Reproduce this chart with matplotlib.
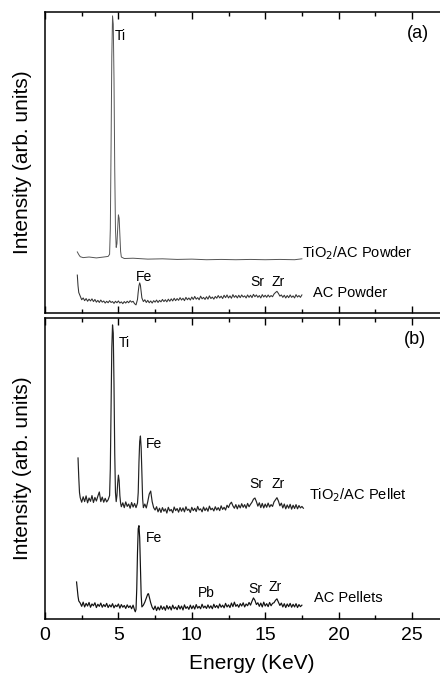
import matplotlib
matplotlib.use("Agg")
import matplotlib.pyplot as plt
from matplotlib.ticker import MultipleLocator

plt.rcParams['font.family'] = ['Liberation Sans', 'DejaVu Sans']

x_ticks = [0, 5, 10, 15, 20, 25]

# (a) TiO2/AC powder
tio2_pow_e = [2.20, 2.30, 2.40, 2.60, 3.00, 3.50, 4.00, 4.30, 4.40, 4.45, 4.50, 4.55,
              4.60, 4.65, 4.70, 4.75, 4.80, 4.85, 4.90, 4.95, 5.00, 5.05, 5.10, 5.15,
              5.20, 5.40, 6.00, 7.00, 8.00, 9.00, 10.0, 11.0, 12.0, 13.0, 14.0, 15.0,
              16.0, 17.0, 17.5]
tio2_pow_i = [20.3, 19.4, 18.7, 18.4, 18.6, 18.3, 18.6, 18.8, 19.5, 28.0, 55.0, 85.0,
              98.7, 96.0, 78.0, 48.0, 28.0, 21.8, 23.0, 28.0, 32.6, 31.5, 26.0, 20.5,
              18.6, 18.1, 18.2, 17.9, 18.0, 17.8, 17.9, 17.7, 17.8, 17.7, 17.8, 17.7,
              17.8, 17.7, 18.0]

# (a) AC powder
ac_pow_e = [2.20, 2.25, 2.30, 2.40, 2.50, 2.60, 2.70, 2.80, 2.90, 3.00, 3.10, 3.20,
            3.30, 3.40, 3.50, 3.60, 3.70, 3.80, 3.90, 4.00, 4.10, 4.20, 4.30, 4.40,
            4.50, 4.60, 4.70, 4.80, 4.90, 5.00, 5.10, 5.20, 5.30, 5.40, 5.50, 5.60,
            5.70, 5.80, 5.90, 6.00, 6.10, 6.20, 6.30, 6.35, 6.40, 6.45, 6.50, 6.55,
            6.60, 6.70, 6.80, 6.90, 7.00, 7.10, 7.20, 7.30, 7.40, 7.50, 7.60, 7.70,
            7.80, 7.90, 8.00, 8.10, 8.20, 8.30, 8.40, 8.50, 8.60, 8.70, 8.80, 8.90,
            9.00, 9.10, 9.20, 9.30, 9.40, 9.50, 9.60, 9.70, 9.80, 9.90, 10.0, 10.1,
            10.2, 10.3, 10.4, 10.5, 10.6, 10.7, 10.8, 10.9, 11.0, 11.1, 11.2, 11.3,
            11.4, 11.5, 11.6, 11.7, 11.8, 11.9, 12.0, 12.1, 12.2, 12.3, 12.4, 12.5,
            12.6, 12.7, 12.8, 12.9, 13.0, 13.1, 13.2, 13.3, 13.4, 13.5, 13.6, 13.7,
            13.8, 13.9, 14.0, 14.1, 14.2, 14.3, 14.4, 14.5, 14.6, 14.7, 14.8, 14.9,
            15.0, 15.1, 15.2, 15.3, 15.4, 15.5, 15.6, 15.7, 15.8, 15.9, 16.0, 16.1,
            16.2, 16.3, 16.4, 16.5, 16.6, 16.7, 16.8, 16.9, 17.0, 17.1, 17.2, 17.3,
            17.4, 17.5]
ac_pow_i = [12.6, 9.0, 6.8, 5.6, 4.4, 5.0, 4.1, 4.8, 3.9, 4.6, 4.0, 4.7,
            3.8, 4.5, 3.6, 4.2, 3.5, 4.3, 3.6, 4.0, 3.3, 3.9, 3.4, 4.1,
            3.5, 3.8, 3.2, 3.9, 3.4, 4.0, 3.3, 3.7, 3.1, 3.8, 3.3, 3.9,
            3.4, 4.1, 3.6, 3.9, 3.1, 2.7, 4.5, 7.0, 9.0, 10.0, 9.2, 7.0,
            5.0, 3.8, 4.4, 3.5, 4.2, 3.4, 4.0, 3.3, 4.1, 3.6, 4.3, 3.5,
            4.2, 3.7, 4.5, 3.8, 4.4, 3.7, 4.6, 3.9, 4.7, 4.0, 4.9, 4.1,
            4.8, 4.2, 5.1, 4.3, 4.9, 4.1, 5.2, 4.4, 5.0, 4.3, 5.3, 4.5,
            5.5, 4.6, 5.1, 4.4, 5.6, 4.7, 5.2, 4.5, 5.4, 4.6, 5.7, 4.8,
            5.3, 4.6, 5.5, 4.9, 5.8, 5.0, 5.6, 4.8, 5.9, 5.1, 6.0, 5.0,
            5.7, 4.9, 6.1, 5.2, 5.8, 5.0, 5.9, 5.1, 6.0, 5.3, 5.7, 5.0,
            6.0, 5.2, 5.9, 5.1, 6.2, 5.4, 6.0, 5.2, 5.8, 5.0, 6.1, 5.3,
            5.9, 5.2, 6.0, 5.3, 5.8, 5.4, 6.3, 6.8, 7.2, 6.5, 5.6, 6.0,
            5.2, 5.9, 5.0, 5.8, 5.1, 6.0, 5.2, 5.7, 5.0, 6.1, 5.3, 5.8,
            5.2, 6.0]

# (b) TiO2/AC pellet
tio2_pel_e = [2.25, 2.30, 2.35, 2.40, 2.50, 2.60, 2.70, 2.80, 2.90, 3.00, 3.10, 3.20,
              3.30, 3.40, 3.50, 3.60, 3.70, 3.80, 3.90, 4.00, 4.10, 4.20, 4.30, 4.40,
              4.45, 4.50, 4.55, 4.60, 4.65, 4.70, 4.75, 4.80, 4.85, 4.90, 4.95, 5.00,
              5.05, 5.10, 5.15, 5.20, 5.30, 5.40, 5.50, 5.60, 5.70, 5.80, 5.90, 6.00,
              6.10, 6.20, 6.30, 6.35, 6.40, 6.45, 6.50, 6.55, 6.60, 6.65, 6.70, 6.80,
              6.90, 7.00, 7.10, 7.20, 7.30, 7.40, 7.50, 7.60, 7.70, 7.80, 7.90, 8.00,
              8.10, 8.20, 8.30, 8.40, 8.50, 8.60, 8.70, 8.80, 8.90, 9.00, 9.10, 9.20,
              9.30, 9.40, 9.50, 9.60, 9.70, 9.80, 9.90, 10.0, 10.1, 10.2, 10.3, 10.4,
              10.5, 10.6, 10.7, 10.8, 10.9, 11.0, 11.1, 11.2, 11.3, 11.4, 11.5, 11.6,
              11.7, 11.8, 11.9, 12.0, 12.1, 12.2, 12.3, 12.4, 12.5, 12.6, 12.7, 12.8,
              12.9, 13.0, 13.1, 13.2, 13.3, 13.4, 13.5, 13.6, 13.7, 13.8, 13.9, 14.0,
              14.1, 14.2, 14.3, 14.4, 14.5, 14.6, 14.7, 14.8, 14.9, 15.0, 15.1, 15.2,
              15.3, 15.4, 15.5, 15.6, 15.7, 15.8, 15.9, 16.0, 16.1, 16.2, 16.3, 16.4,
              16.5, 16.6, 16.7, 16.8, 16.9, 17.0, 17.1, 17.2, 17.3, 17.4, 17.5, 17.6]
tio2_pel_i = [53.5, 47.0, 42.0, 40.3, 38.8, 40.6, 39.0, 40.9, 38.6, 40.2, 39.1, 41.0,
              38.7, 40.4, 39.2, 40.8, 42.2, 39.0, 40.5, 38.8, 40.1, 38.9, 39.6, 41.0,
              50.0, 70.0, 90.0, 97.7, 95.0, 78.0, 55.0, 42.0, 39.0, 41.0, 45.0, 47.8,
              46.0, 41.0, 38.5, 37.3, 38.6, 37.0, 38.9, 37.4, 38.2, 36.8, 38.7, 37.2,
              38.4, 37.0, 38.5, 42.0, 52.0, 59.0, 60.8, 57.0, 48.0, 40.0, 37.0, 38.2,
              36.9, 39.0, 41.5, 42.5, 39.0, 37.0, 36.2, 37.3, 35.6, 36.8, 35.4, 37.0,
              35.8, 36.6, 35.2, 37.1, 35.9, 36.4, 35.3, 37.2, 36.0, 36.7, 35.5, 37.0,
              35.8, 36.9, 35.6, 37.3, 36.1, 36.5, 35.4, 37.1, 36.0, 36.8, 35.7, 37.4,
              36.2, 36.6, 35.6, 37.2, 36.0, 36.9, 35.8, 37.5, 36.3, 36.8, 35.9, 37.3,
              36.2, 37.0, 36.0, 37.6, 36.4, 37.1, 36.2, 37.8, 37.0, 38.2, 38.8, 37.6,
              36.8, 38.0, 36.6, 37.9, 36.9, 38.3, 37.1, 38.0, 36.8, 38.4, 37.3, 38.1,
              38.8, 39.8, 40.2, 39.0, 37.5, 38.6, 37.0, 38.4, 36.9, 38.2, 37.1, 38.5,
              37.2, 38.0, 37.4, 38.9, 39.6, 40.3, 39.2, 37.6, 38.5, 36.9, 38.2, 36.6,
              37.9, 36.8, 38.1, 36.5, 37.8, 36.7, 38.0, 36.6, 37.7, 36.9, 37.4, 36.8]

# (b) AC pellets
ac_pel_e = [2.15, 2.20, 2.25, 2.30, 2.40, 2.50, 2.60, 2.70, 2.80, 2.90, 3.00, 3.10,
            3.20, 3.30, 3.40, 3.50, 3.60, 3.70, 3.80, 3.90, 4.00, 4.10, 4.20, 4.30,
            4.40, 4.50, 4.60, 4.70, 4.80, 4.90, 5.00, 5.10, 5.20, 5.30, 5.40, 5.50,
            5.60, 5.70, 5.80, 5.90, 6.00, 6.10, 6.15, 6.20, 6.25, 6.30, 6.35, 6.40,
            6.45, 6.50, 6.55, 6.60, 6.70, 6.80, 6.90, 7.00, 7.05, 7.10, 7.20, 7.30,
            7.40, 7.50, 7.60, 7.70, 7.80, 7.90, 8.00, 8.10, 8.20, 8.30, 8.40, 8.50,
            8.60, 8.70, 8.80, 8.90, 9.00, 9.10, 9.20, 9.30, 9.40, 9.50, 9.60, 9.70,
            9.80, 9.90, 10.0, 10.1, 10.2, 10.3, 10.4, 10.5, 10.6, 10.7, 10.8, 10.9,
            11.0, 11.1, 11.2, 11.3, 11.4, 11.5, 11.6, 11.7, 11.8, 11.9, 12.0, 12.1,
            12.2, 12.3, 12.4, 12.5, 12.6, 12.7, 12.8, 12.9, 13.0, 13.1, 13.2, 13.3,
            13.4, 13.5, 13.6, 13.7, 13.8, 13.9, 14.0, 14.1, 14.2, 14.3, 14.4, 14.5,
            14.6, 14.7, 14.8, 14.9, 15.0, 15.1, 15.2, 15.3, 15.4, 15.5, 15.6, 15.7,
            15.8, 15.9, 16.0, 16.1, 16.2, 16.3, 16.4, 16.5, 16.6, 16.7, 16.8, 16.9,
            17.0, 17.1, 17.2, 17.3, 17.4, 17.5]
ac_pel_i = [12.3, 10.0, 7.5, 6.0, 5.3, 4.2, 5.6, 4.0, 5.2, 4.3, 5.5, 3.9,
            5.0, 4.4, 5.4, 3.8, 4.9, 4.2, 5.3, 3.9, 4.8, 4.1, 5.2, 3.8,
            4.7, 4.0, 5.1, 3.7, 4.6, 4.1, 5.0, 3.6, 4.8, 3.9, 4.5, 3.5,
            4.7, 3.8, 4.4, 3.4, 4.6, 3.0, 2.4, 3.2, 10.0, 22.0, 30.0, 31.0,
            27.0, 17.0, 8.0, 4.0, 4.6, 5.6, 7.0, 8.3, 8.4, 7.4, 5.4, 3.9,
            3.1, 4.3, 2.8, 4.0, 3.0, 4.4, 3.2, 4.1, 2.9, 4.5, 3.3, 4.2,
            3.0, 4.6, 3.4, 4.0, 3.1, 4.5, 3.3, 4.3, 3.0, 4.7, 3.5, 4.1,
            3.2, 4.6, 3.4, 4.4, 3.3, 4.8, 3.6, 4.2, 3.4, 4.9, 3.7, 4.3,
            3.5, 4.7, 3.6, 4.4, 3.4, 4.9, 3.8, 4.5, 3.6, 5.0, 3.9, 4.6,
            3.7, 5.2, 4.0, 4.7, 3.8, 5.3, 4.1, 5.6, 4.2, 4.8, 3.9, 5.1,
            4.3, 5.4, 4.0, 5.0, 4.4, 5.5, 4.6, 5.9, 7.0, 6.2, 4.8, 5.4,
            4.2, 5.3, 4.0, 5.6, 4.3, 5.1, 4.1, 5.5, 4.4, 5.2, 5.4, 6.2,
            6.7, 5.6, 4.5, 5.3, 4.0, 5.1, 3.8, 5.0, 4.1, 5.2, 3.9, 4.9,
            4.0, 5.1, 3.8, 4.8, 4.1, 4.6]

fig = plt.figure(figsize=(4.4, 6.74), dpi=100)
ax1 = fig.add_axes([45 / 440, 361 / 674, 440.4 / 440, 301 / 674])
ax2 = fig.add_axes([45 / 440, 55 / 674, 440.4 / 440, 301 / 674])

ax1.plot(tio2_pow_e, tio2_pow_i, color='#555555', lw=0.7)
ax1.plot(ac_pow_e, ac_pow_i, color='#333333', lw=0.75)
ax2.plot(tio2_pel_e, tio2_pel_i, color='#222222', lw=0.85)
ax2.plot(ac_pel_e, ac_pel_i, color='#111111', lw=0.85)

for ax in (ax1, ax2):
    ax.set_xlim(0, 30)
    ax.set_ylim(0, 100)
    ax.set_yticks([])
    ax.set_xticks(x_ticks)
    ax.xaxis.set_minor_locator(MultipleLocator(2.5))
    ax.tick_params(axis='x', which='both', direction='in', top=True, bottom=True,
                   width=1.0, labelsize=14, pad=6)
    ax.tick_params(axis='x', which='major', length=5)
    ax.tick_params(axis='x', which='minor', length=3)
    for s in ax.spines.values():
        s.set_linewidth(1.1)
    ax.spines['right'].set_visible(False)
    ax.set_ylabel('Intensity (arb. units)', fontsize=15)
    ax.yaxis.set_label_coords(-0.029, 0.5)

ax1.tick_params(axis='x', labelbottom=False)

tk = dict(fontsize=10, ha='center', va='center')
ax1.text(5.1, 92, 'Ti', **tk)
ax1.text(6.75, 12, 'Fe', **tk)
ax1.text(14.45, 10.3, 'Sr', **tk)
ax1.text(15.9, 10.3, 'Zr', **tk)
ax1.text(17.5, 20, 'TiO$_2$/AC Powder', fontsize=10.5, ha='left', va='center')
ax1.text(18.25, 6.6, 'AC Powder', fontsize=10.5, ha='left', va='center')
ax1.text(25.4, 93, '(a)', fontsize=13, ha='center', va='center')

ax2.text(5.4, 91.7, 'Ti', **tk)
ax2.text(7.45, 58, 'Fe', **tk)
ax2.text(14.4, 45, 'Sr', **tk)
ax2.text(15.9, 45, 'Zr', **tk)
ax2.text(18.0, 41, 'TiO$_2$/AC Pellet', fontsize=10.5, ha='left', va='center')
ax2.text(7.4, 27, 'Fe', **tk)
ax2.text(11.0, 8.6, 'Pb', **tk)
ax2.text(14.3, 10, 'Sr', **tk)
ax2.text(15.7, 10.6, 'Zr', **tk)
ax2.text(18.3, 7, 'AC Pellets', fontsize=10.5, ha='left', va='center')
ax2.text(25.2, 92.7, '(b)', fontsize=13, ha='center', va='center')

ax2.set_xlabel('Energy (KeV)', fontsize=15)
ax2.xaxis.set_label_coords(0.47, -0.115)

fig.savefig('out.png', dpi=100)
